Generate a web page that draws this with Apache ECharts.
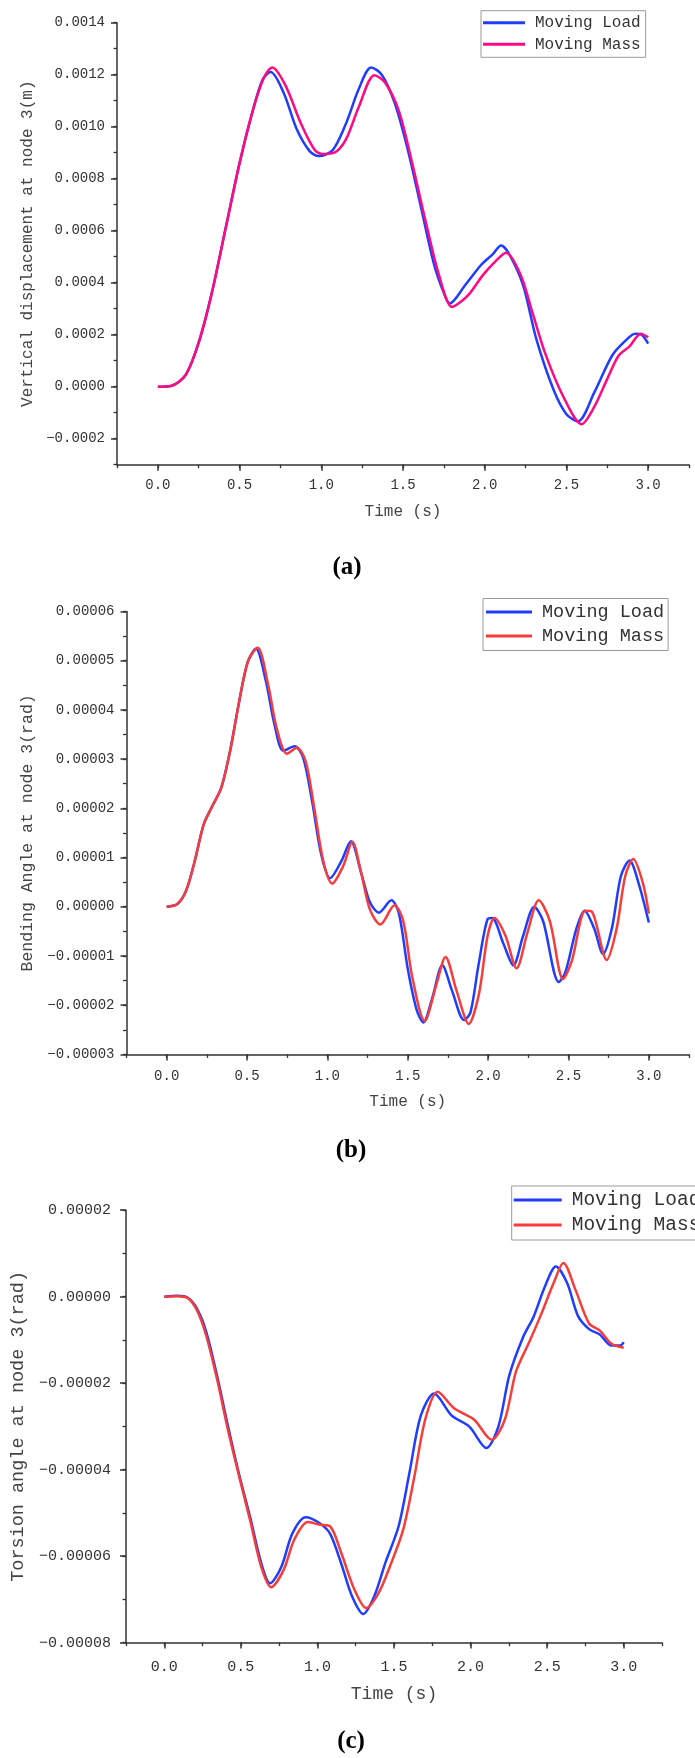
<!DOCTYPE html>
<html><head><meta charset="utf-8">
<script src="https://cdn.jsdelivr.net/npm/echarts@6/dist/echarts.min.js"></script>
<style>html,body{margin:0;padding:0;background:#fff}#c{width:695px;height:1758px}</style>
</head><body><div id="c"></div><script>
// ---------- DATA ----------
const xTicks = [0, 0.5, 1, 1.5, 2, 2.5, 3];
const yTicksA = [-0.0002, 0, 0.0002, 0.0004, 0.0006, 0.0008, 0.0010, 0.0012, 0.0014];
const yTicksB = [-0.00003, -0.00002, -0.00001, 0, 0.00001, 0.00002, 0.00003, 0.00004, 0.00005, 0.00006];
const yTicksC = [-0.00008, -0.00006, -0.00004, -0.00002, 0, 0.00002];
const legendNames = ['Moving Load', 'Moving Mass'];

// (a) vertical displacement (m)
const tA_load = [0, 0.08, 0.17, 0.25, 0.33, 0.415, 0.5, 0.58, 0.64, 0.69, 0.77, 0.85, 0.93, 0.985, 1.07, 1.15, 1.23, 1.305, 1.37, 1.45, 1.53, 1.61, 1.69, 1.75, 1.786, 1.88, 1.98, 2.05, 2.1, 2.15, 2.235, 2.316, 2.42, 2.5, 2.57, 2.67, 2.78, 2.86, 2.92, 2.96, 3.0];
const vA_load = [0, 0.03e-4, 0.45e-4, 1.7e-4, 3.6e-4, 6.1e-4, 8.6e-4, 10.6e-4, 11.8e-4, 12.1e-4, 11.3e-4, 9.9e-4, 9.05e-4, 8.87e-4, 9.1e-4, 10.1e-4, 11.46e-4, 12.28e-4, 12.0e-4, 10.9e-4, 9.1e-4, 6.9e-4, 4.7e-4, 3.6e-4, 3.2e-4, 3.9e-4, 4.7e-4, 5.1e-4, 5.43e-4, 5.1e-4, 3.9e-4, 1.83e-4, -0.1e-4, -1.06e-4, -1.33e-4, -0.23e-4, 1.2e-4, 1.76e-4, 2.04e-4, 2.0e-4, 1.66e-4];
const tA_mass = [0, 0.08, 0.17, 0.25, 0.33, 0.415, 0.5, 0.58, 0.65, 0.70, 0.78, 0.877, 0.96, 1.01, 1.08, 1.15, 1.23, 1.325, 1.39, 1.475, 1.556, 1.637, 1.72, 1.8, 1.86, 1.91, 1.99, 2.07, 2.13, 2.22, 2.29, 2.37, 2.48, 2.593, 2.67, 2.75, 2.82, 2.886, 2.955, 3.0];
const vA_mass = [0, 0.03e-4, 0.45e-4, 1.7e-4, 3.6e-4, 6.1e-4, 8.6e-4, 10.6e-4, 11.9e-4, 12.28e-4, 11.6e-4, 10.1e-4, 9.1e-4, 8.95e-4, 9.0e-4, 9.5e-4, 10.77e-4, 11.98e-4, 11.7e-4, 10.6e-4, 8.6e-4, 6.4e-4, 4.3e-4, 3.07e-4, 3.3e-4, 3.6e-4, 4.3e-4, 4.85e-4, 5.15e-4, 4.3e-4, 2.9e-4, 1.28e-4, -0.37e-4, -1.44e-4, -0.78e-4, 0.3e-4, 1.2e-4, 1.55e-4, 2.04e-4, 1.9e-4];

// (b) bending angle (rad)
const tB_load = [0, 0.064, 0.12, 0.174, 0.23, 0.285, 0.34, 0.395, 0.45, 0.505, 0.555, 0.616, 0.671, 0.726, 0.796, 0.85, 0.906, 0.961, 1.017, 1.086, 1.146, 1.21, 1.265, 1.32, 1.398, 1.445, 1.5, 1.555, 1.597, 1.652, 1.715, 1.776, 1.85, 1.89, 1.94, 1.997, 2.025, 2.094, 2.157, 2.218, 2.287, 2.342, 2.44, 2.48, 2.55, 2.6, 2.66, 2.715, 2.77, 2.826, 2.88, 2.937, 3.0];
const vB_load = [0, 0.05e-5, 0.32e-5, 0.92e-5, 1.67e-5, 2.05e-5, 2.42e-5, 3.17e-5, 4.15e-5, 4.98e-5, 5.24e-5, 4.6e-5, 3.7e-5, 3.17e-5, 3.26e-5, 3.02e-5, 2.12e-5, 1.07e-5, 0.58e-5, 0.92e-5, 1.33e-5, 0.69e-5, 0.09e-5, -0.12e-5, 0.13e-5, -0.135e-5, -1.26e-5, -2.09e-5, -2.35e-5, -1.86e-5, -1.19e-5, -1.71e-5, -2.3e-5, -2.15e-5, -1.19e-5, -0.25e-5, -0.23e-5, -0.74e-5, -1.19e-5, -0.59e-5, 0, -0.29e-5, -1.53e-5, -1.34e-5, -0.44e-5, -0.08e-5, -0.44e-5, -0.96e-5, -0.44e-5, 0.62e-5, 0.94e-5, 0.47e-5, -0.32e-5];
const tB_mass = [0, 0.064, 0.12, 0.174, 0.23, 0.285, 0.34, 0.395, 0.45, 0.505, 0.566, 0.63, 0.685, 0.749, 0.81, 0.865, 0.92, 0.975, 1.03, 1.1, 1.155, 1.21, 1.265, 1.33, 1.417, 1.472, 1.527, 1.605, 1.68, 1.735, 1.804, 1.88, 1.942, 1.997, 2.04, 2.108, 2.177, 2.246, 2.315, 2.384, 2.467, 2.52, 2.605, 2.646, 2.738, 2.8, 2.853, 2.903, 2.964, 3.0];
const vB_mass = [0, 0.05e-5, 0.32e-5, 0.92e-5, 1.67e-5, 2.05e-5, 2.42e-5, 3.17e-5, 4.15e-5, 4.98e-5, 5.26e-5, 4.53e-5, 3.62e-5, 3.11e-5, 3.23e-5, 2.95e-5, 1.97e-5, 0.92e-5, 0.47e-5, 0.84e-5, 1.32e-5, 0.69e-5, -0.06e-5, -0.36e-5, 0.03e-5, -0.29e-5, -1.41e-5, -2.32e-5, -1.56e-5, -1.02e-5, -1.71e-5, -2.38e-5, -1.79e-5, -0.59e-5, -0.23e-5, -0.59e-5, -1.25e-5, -0.51e-5, 0.13e-5, -0.29e-5, -1.47e-5, -1.11e-5, -0.08e-5, -0.1e-5, -1.08e-5, -0.44e-5, 0.62e-5, 0.97e-5, 0.47e-5, -0.14e-5];

// (c) torsion angle (rad)
const tC_load = [0, 0.084, 0.156, 0.214, 0.272, 0.344, 0.417, 0.489, 0.561, 0.633, 0.691, 0.764, 0.836, 0.923, 1.01, 1.082, 1.154, 1.226, 1.299, 1.371, 1.443, 1.53, 1.603, 1.675, 1.762, 1.877, 1.993, 2.103, 2.181, 2.253, 2.34, 2.413, 2.485, 2.557, 2.63, 2.702, 2.774, 2.846, 2.92, 2.977, 3.0];
const vC_load = [0, 0.02e-5, -0.03e-5, -0.28e-5, -0.79e-5, -1.82e-5, -3.01e-5, -4.12e-5, -5.1e-5, -6.16e-5, -6.63e-5, -6.25e-5, -5.48e-5, -5.1e-5, -5.23e-5, -5.48e-5, -6.16e-5, -6.93e-5, -7.34e-5, -6.93e-5, -6.16e-5, -5.31e-5, -4.03e-5, -2.75e-5, -2.24e-5, -2.75e-5, -3.01e-5, -3.5e-5, -3.01e-5, -1.82e-5, -0.96e-5, -0.45e-5, 0.23e-5, 0.7e-5, 0.32e-5, -0.45e-5, -0.75e-5, -0.88e-5, -1.13e-5, -1.13e-5, -1.05e-5];
const tC_mass = [0, 0.084, 0.156, 0.214, 0.272, 0.344, 0.417, 0.489, 0.561, 0.633, 0.697, 0.778, 0.85, 0.937, 1.01, 1.082, 1.154, 1.24, 1.319, 1.4, 1.472, 1.559, 1.631, 1.704, 1.785, 1.892, 2.022, 2.138, 2.224, 2.297, 2.383, 2.456, 2.543, 2.606, 2.687, 2.774, 2.846, 2.92, 3.0];
const vC_mass = [0, 0.01e-5, -0.04e-5, -0.32e-5, -0.88e-5, -1.9e-5, -3.1e-5, -4.16e-5, -5.18e-5, -6.25e-5, -6.72e-5, -6.33e-5, -5.61e-5, -5.21e-5, -5.27e-5, -5.31e-5, -5.91e-5, -6.76e-5, -7.2e-5, -6.85e-5, -6.25e-5, -5.4e-5, -4.2e-5, -2.84e-5, -2.2e-5, -2.58e-5, -2.84e-5, -3.31e-5, -2.84e-5, -1.73e-5, -1.05e-5, -0.45e-5, 0.32e-5, 0.78e-5, 0.14e-5, -0.62e-5, -0.79e-5, -1.09e-5, -1.18e-5];

// ---------- STYLE ----------
const MONO = '"Liberation Mono", "DejaVu Sans Mono", monospace';
const BLUE = '#1f3dff', MAG = '#ff0a82', RED = '#f73c3c';
const AX = '#333';

const panels = [
  {grid:{left:117, top:22.7, width:572, height:442}, yMin:-0.0003, yMax:0.0014, yTicks:yTicksA, yMinor:0.0001, dec:4,
   yName:'Vertical displacement at node 3(m)', yNameGap:74, yNameSize:16, labSize:14, yLabMargin:12, xLabMargin:14, xNameGap:39, xNameSize:16,
   series:[[tA_load, vA_load, BLUE], [tA_mass, vA_mass, MAG]],
   legend:{left:481, top:10.7, size:16, w:42, gap:5.6, pad:[4,5,5,2]}, tag:'(a)', tagX:347, tagY:568},
  {grid:{left:126.5, top:611.4, width:562.5, height:443}, yMin:-0.00003, yMax:0.00006, yTicks:yTicksB, yMinor:0.000005, dec:5,
   yName:'Bending Angle at node 3(rad)', yNameGap:83, yNameSize:16.5, labSize:14, yLabMargin:12, xLabMargin:14.6, xNameGap:39.6, xNameSize:16,
   series:[[tB_load, vB_load, BLUE], [tB_mass, vB_mass, RED]],
   legend:{left:483, top:598.5, size:18.5, w:46, gap:5, pad:[4,4,5,3]}, tag:'(b)', tagX:351, tagY:1151},
  {grid:{left:126, top:1210.2, width:536, height:432.4}, yMin:-0.00008, yMax:0.00002, yTicks:yTicksC, yMinor:0.00001, dec:5,
   yName:'Torsion angle at node 3(rad)', yNameGap:92, yNameSize:18.5, labSize:15, yLabMargin:15, xLabMargin:17, xNameGap:43, xNameSize:18,
   series:[[tC_load, vC_load, BLUE], [tC_mass, vC_mass, RED]],
   legend:{left:511.7, top:1186, size:19.5, w:48, gap:5, pad:[4,20,5,2]}, tag:'(c)', tagX:351, tagY:1742}
];

const fmtNum = (v, d) => { let s = (Math.abs(v) < 1e-12 ? 0 : v).toFixed(d); return s.replace('-', '\u2212'); };

const grid = [], xAxis = [], yAxis = [], series = [], legend = [], graphic = [];
panels.forEach((p, i) => {
  grid.push(Object.assign({containLabel:false}, p.grid));
  xAxis.push({gridIndex:i, type:'value', position:'bottom', min:-0.25, max:3.25,
    axisLine:{show:true, onZero:false, lineStyle:{color:AX, width:1.5}},
    axisTick:{show:true, customValues:xTicks, length:6, lineStyle:{color:AX, width:1.5}},
    axisLabel:{show:true, customValues:xTicks, formatter:v => fmtNum(v,1), margin:p.xLabMargin, fontFamily:MONO, fontSize:p.labSize, color:'#333'},
    splitLine:{show:false},
    name:'Time (s)', nameLocation:'middle', nameGap:p.xNameGap,
    nameTextStyle:{fontFamily:MONO, fontSize:p.xNameSize, color:'#444'}});
  xAxis.push({gridIndex:i, type:'value', position:'bottom', min:-0.25, max:3.25, interval:0.25,
    axisLine:{show:false, onZero:false}, axisTick:{show:true, length:3.5, lineStyle:{color:AX, width:1.3}},
    axisLabel:{show:false}, splitLine:{show:false}});
  yAxis.push({gridIndex:i, type:'value', position:'left', min:p.yMin, max:p.yMax,
    axisLine:{show:true, onZero:false, lineStyle:{color:AX, width:1.5}},
    axisTick:{show:true, customValues:p.yTicks, length:6, lineStyle:{color:AX, width:1.5}},
    axisLabel:{show:true, customValues:p.yTicks, formatter:v => fmtNum(v,p.dec), margin:p.yLabMargin, fontFamily:MONO, fontSize:p.labSize, color:'#333'},
    splitLine:{show:false},
    name:p.yName, nameLocation:'middle', nameGap:p.yNameGap,
    nameTextStyle:{fontFamily:MONO, fontSize:p.yNameSize, color:'#444'}});
  yAxis.push({gridIndex:i, type:'value', position:'left', min:p.yMin, max:p.yMax, interval:p.yMinor,
    axisLine:{show:false, onZero:false}, axisTick:{show:true, length:3.5, lineStyle:{color:AX, width:1.3}},
    axisLabel:{show:false}, splitLine:{show:false}});

  p.series.forEach((s, k) => {
    const [ts, vs, col] = s;
    series.push({type:'line', name:legendNames[k], xAxisIndex:2*i, yAxisIndex:2*i,
      data: ts.map((t, j) => [t, vs[j]]),
      smooth:0.3, showSymbol:false, symbol:'none', animation:false,
      lineStyle:{color:col, width:2.5}, itemStyle:{color:col}, z:2+k});
  });

  legend.push({left:p.legend.left, top:p.legend.top, orient:'vertical', selectedMode:false,
    icon:'rect', itemWidth:p.legend.w, itemHeight:3, itemGap:p.legend.gap, padding:p.legend.pad,
    borderColor:'#999', borderWidth:1, backgroundColor:'#fff',
    textStyle:{fontFamily:MONO, fontSize:p.legend.size, color:'#333', padding:[0,0,0,5]},
    data: legendNames.map((n, k) => ({name:n, itemStyle:{color:p.series[k][2]}, lineStyle:{color:p.series[k][2]}}))});

  graphic.push({type:'text', x:p.tagX, y:p.tagY,
    style:{text:p.tag, font:'bold 25px "Liberation Serif", serif', fill:'#000', textAlign:'center', textVerticalAlign:'middle'}});
});

const chart = echarts.init(document.getElementById('c'), null, {renderer:'canvas'});
chart.setOption({animation:false, backgroundColor:'#fff', grid, xAxis, yAxis, series, legend, graphic});
</script></body></html>
